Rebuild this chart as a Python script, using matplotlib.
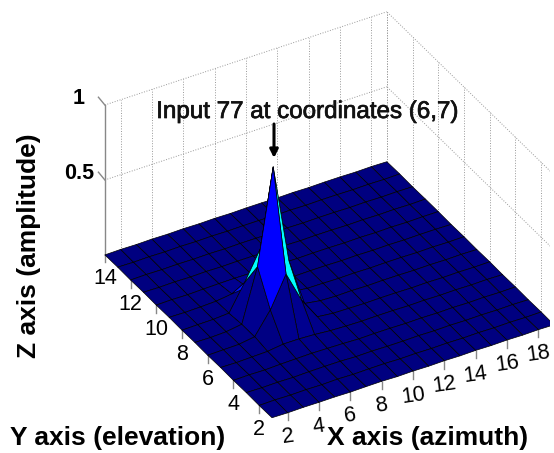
import numpy as np
import matplotlib
matplotlib.use("Agg")
import matplotlib.pyplot as plt
import matplotlib.patheffects as pe
from matplotlib.colors import LinearSegmentedColormap
from mpl_toolkits.mplot3d import proj3d

plt.rcParams["font.family"] = ["Liberation Sans", "DejaVu Sans"]

x_vals = [1, 2, 3, 4, 5, 6, 7, 8, 9, 10, 11, 12, 13, 14, 15, 16, 17, 18, 19]
y_vals = [1, 2, 3, 4, 5, 6, 7, 8, 9, 10, 11, 12, 13, 14]
# amplitude, one row per y value (elevation), one column per x value (azimuth)
amplitude = [
    [.002, .000, .002, .001, .002, .000, .002, .003, .000, .002, .000, .002, .000, .002, .000, .002, .000, .002, .000],
    [.000, .002, .000, .002, .000, .003, .000, .002, .003, .000, .002, .000, .002, .000, .002, .000, .002, .000, .002],
    [.002, .000, .002, .000, .003, .004, .004, .000, .002, .000, .000, .002, .000, .002, .000, .002, .000, .002, .000],
    [.000, .002, .000, .004, .006, .008, .006, .004, .000, .002, .002, .000, .002, .000, .002, .000, .002, .000, .002],
    [.002, .000, .003, .006, .020, .020, .015, .006, .002, .000, .002, .002, .000, .002, .000, .002, .000, .002, .000],
    [.000, .002, .004, .020, .165, .370, .160, .015, .004, .002, .000, .002, .002, .000, .002, .000, .002, .000, .002],
    [.002, .000, .004, .020, .370, 1.00, .340, .020, .004, .000, .002, .000, .002, .002, .000, .002, .000, .002, .000],
    [.000, .002, .003, .010, .180, .370, .160, .015, .003, .002, .000, .002, .000, .002, .002, .000, .002, .000, .002],
    [.002, .000, .002, .006, .020, .030, .020, .006, .000, .002, .002, .000, .002, .000, .002, .000, .002, .002, .000],
    [.000, .002, .000, .003, .005, .006, .005, .000, .002, .000, .002, .002, .000, .002, .000, .002, .000, .002, .002],
    [.002, .000, .002, .000, .002, .000, .002, .002, .000, .002, .000, .002, .002, .000, .002, .000, .002, .000, .002],
    [.000, .002, .000, .002, .000, .002, .000, .002, .002, .000, .002, .000, .002, .002, .000, .002, .000, .002, .000],
    [.002, .000, .002, .000, .002, .000, .002, .000, .002, .002, .000, .002, .000, .002, .002, .000, .002, .000, .002],
    [.000, .002, .000, .002, .000, .002, .000, .002, .000, .002, .002, .000, .002, .000, .002, .002, .000, .002, .000],
]
x_ticks = [2, 4, 6, 8, 10, 12, 14, 16, 18]
y_ticks = [2, 4, 6, 8, 10, 12, 14]
z_ticks = [0.5, 1]
z_ticklabels = ["0.5", "1"]

W, H = 554, 453
fig = plt.figure(figsize=(W / 100, H / 100), dpi=100)
ax = fig.add_axes([0, 0, 1, 1], projection="3d")
ax.set_proj_type("ortho")
ax.view_init(elev=34.6, azim=-120.2)
ax.computed_zorder = False
ax.patch.set_alpha(0)

X, Y = np.meshgrid(x_vals, y_vals)
Z = np.array(amplitude)
cmap = LinearSegmentedColormap.from_list(
    "peak", [(0, (0, 0, 0.5)), (0.165, (0, 0, 1)), (0.37, (0, 1, 1)), (1, (0, 1, 1))])
ax.plot_surface(X, Y, Z, rstride=1, cstride=1, facecolors=cmap(Z), shade=False,
                edgecolor="black", linewidth=0.5, antialiased=True, zorder=2)

x0, x1 = x_vals[0], x_vals[-1]
y0, y1 = y_vals[0], y_vals[-1]
ax.set_xlim(x0, x1)
ax.set_ylim(y0, y1)
ax.set_zlim(0, 1)
ax.set_xticks([])
ax.set_yticks([])
ax.set_zticks([])
ax.set_axis_off()

# dotted grid on the two back walls
grid = dict(ls=":", color="#999999", lw=0.7, zorder=1)
for t in x_ticks + [x1]:
    ax.plot([t, t], [y1, y1], [0, 1], **grid)
for t in y_ticks:
    ax.plot([x1, x1], [t, t], [0, 1], **grid)
for t in z_ticks:
    ax.plot([x0, x1], [y1, y1], [t, t], **grid)
    ax.plot([x1, x1], [y0, y1], [t, t], **grid)

# z axis and the short gray tick marks
gray = dict(color="#888888", lw=1.0, zorder=1)
ax.plot([x0, x0], [y1, y1], [0, 1], **gray)
for t in z_ticks:
    ax.plot([x0, x0], [y1, y1 + 0.5], [t, t + 0.01], **gray)
for t in x_ticks:
    ax.plot([t, t], [y0, y0], [0, -0.05], **gray)
for t in y_ticks:
    ax.plot([x0, x0], [t, t], [0, -0.05], **gray)

# fit the box onto the reference: front corner (272,418), right corner (554,325)
def project(x, y, z):
    xs, ys, _ = proj3d.proj_transform(x, y, z, ax.get_proj())
    return xs, ys

def to_px(x, y, z):
    return ax.transData.transform(project(x, y, z))

aspect = (326, 332, 182)
ax.set_box_aspect(aspect)
fig.canvas.draw()
span = to_px(x1, y0, 0)[0] - to_px(x0, y0, 0)[0]
ax.set_box_aspect(aspect, zoom=282 / span)
fig.canvas.draw()
front = to_px(x0, y0, 0)
ax.set_position([(272 - front[0]) / W, ((H - 418) - front[1]) / H, 1, 1])
fig.canvas.draw()

# tick labels sit straight below their tick on the screen
def tick_label(x, y, z, text, dx, dy, **kw):
    ax.annotate(text, xy=project(x, y, z), xytext=(dx, dy), textcoords="offset pixels",
                ha="center", va="center", fontsize=15.5, annotation_clip=False, **kw)

for t in x_ticks:
    tick_label(t, y0, 0, str(t), 0, -24, rotation=8)
for t in y_ticks:
    tick_label(x0, t, 0, str(t), 0, -24)
for t, lab in zip(z_ticks, z_ticklabels):
    tick_label(x0, y1, t, lab, -26, 6, fontweight="bold")

ax.annotate("", xy=(274, H - 158), xytext=(274, H - 124), xycoords="figure pixels",
            textcoords="figure pixels",
            arrowprops=dict(arrowstyle="-|>", color="black", lw=2.2, mutation_scale=12,
                            shrinkA=0, shrinkB=0))

fig.text(307 / W, 1 - 112 / H, "Input 77 at coordinates (6,7)", ha="center", va="center",
         fontsize=17.4, color="#111111",
         path_effects=[pe.withStroke(linewidth=0.5, foreground="#111111")])
fig.text(10 / W, 1 - 438 / H, "Y axis (elevation)", ha="left", va="center",
         fontsize=19, fontweight="bold")
fig.text(327 / W, 1 - 438 / H, "X axis (azimuth)", ha="left", va="center",
         fontsize=19, fontweight="bold")
fig.text(29 / W, 1 - 246 / H, "Z axis (amplitude)", ha="center", va="center",
         rotation=90, fontsize=19, fontweight="bold")

fig.savefig("out.png", dpi=100)
